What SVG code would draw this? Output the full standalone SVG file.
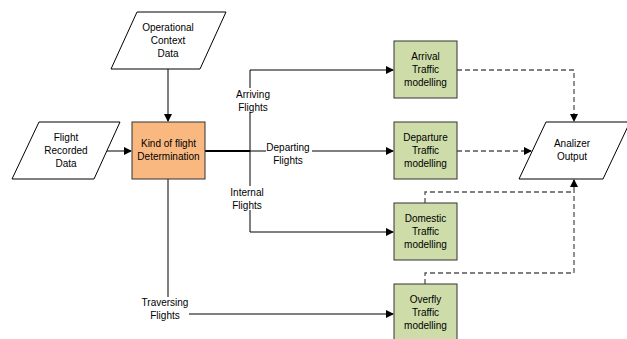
<svg xmlns="http://www.w3.org/2000/svg" width="627" height="339" viewBox="0 0 627 339">
<defs>
<style>
text{font-family:"Liberation Sans",Arial,sans-serif;font-size:10px;fill:#000;text-anchor:middle}
.io{fill:#fff;stroke:#000;stroke-width:1}
.proc{fill:#CDDCA9;stroke:#333;stroke-width:1}
.dec{fill:#F9B880;stroke:#333;stroke-width:1}
.ln{fill:none;stroke:#000;stroke-width:1}
.gl{fill:none;stroke:#555;stroke-width:1.5}
.ds{fill:none;stroke:#555;stroke-width:1.3;stroke-dasharray:5,3}
</style>
<marker id="ah" markerWidth="8" markerHeight="8" refX="7" refY="4" orient="auto" markerUnits="userSpaceOnUse">
<path d="M0,0 L8,4 L0,8 Z" fill="#000"/>
</marker>
</defs>
<rect width="627" height="339" fill="#fff"/>
<g id="connectors">
<path class="ln" d="M168,69 V121" marker-end="url(#ah)"/>
<path class="gl" d="M107,151 H131" marker-end="url(#ah)"/>
<path d="M205,151 H250" fill="none" stroke="#000" stroke-width="2"/>
<path class="gl" d="M250,151 H393" marker-end="url(#ah)"/>
<path class="ln" d="M250,232 V70 H393" marker-end="url(#ah)"/>
<path class="ln" d="M250,232 H393" marker-end="url(#ah)"/>
<path class="ln" d="M168,179 V297"/>
<path class="ln" d="M189,314 H393" marker-end="url(#ah)"/>
<path class="ds" d="M457,70 H574 V121" marker-end="url(#ah)"/>
<path class="ds" d="M457,151 H531" marker-end="url(#ah)"/>
<path class="ds" d="M425,203 V192 H574 V180" marker-end="url(#ah)"/>
<path class="ds" d="M425,284 V273 H574 V192"/>
</g>
<g id="operational">
<polygon class="io" points="137,12 226,12 200,69 111,69"/>
<text x="168" y="31">Operational</text>
<text x="168" y="44">Context</text>
<text x="168" y="57">Data</text>
</g>
<g id="flightrec">
<polygon class="io" points="39,122 120,122 94,179 12,179"/>
<text x="66" y="141">Flight</text>
<text x="66" y="154">Recorded</text>
<text x="66" y="167">Data</text>
</g>
<g id="kind">
<rect class="dec" x="132" y="122" width="73" height="57"/>
<text x="168.5" y="147">Kind of flight</text>
<text x="168.5" y="160">Determination</text>
</g>
<g id="arrival">
<rect class="proc" x="394" y="41" width="63" height="57"/>
<text x="425.5" y="60">Arrival</text>
<text x="425.5" y="73">Traffic</text>
<text x="425.5" y="86">modelling</text>
</g>
<g id="departure">
<rect class="proc" x="394" y="122" width="63" height="57"/>
<text x="425.5" y="141">Departure</text>
<text x="425.5" y="154">Traffic</text>
<text x="425.5" y="167">modelling</text>
</g>
<g id="domestic">
<rect class="proc" x="394" y="203" width="63" height="57"/>
<text x="425.5" y="222">Domestic</text>
<text x="425.5" y="235">Traffic</text>
<text x="425.5" y="248">modelling</text>
</g>
<g id="overfly">
<rect class="proc" x="394" y="284" width="63" height="60"/>
<text x="425.5" y="303">Overfly</text>
<text x="425.5" y="316">Traffic</text>
<text x="425.5" y="329">modelling</text>
</g>
<g id="analizer">
<polygon class="io" points="546,122 630,122 603,179 519,179"/>
<text x="572" y="147">Analizer</text>
<text x="572" y="160">Output</text>
</g>
<g id="labels">
<rect x="232" y="88" width="40" height="24" fill="#fff"/>
<text x="253" y="98">Arriving</text>
<text x="253" y="111">Flights</text>
<rect x="266" y="143" width="46" height="9" fill="#fff"/>
<rect x="266" y="152" width="46" height="12" fill="#fff" opacity="0"/>
<text x="288" y="151">Departing</text>
<text x="288" y="164">Flights</text>
<rect x="228" y="186" width="40" height="24" fill="#fff"/>
<text x="247" y="196">Internal</text>
<text x="247" y="209">Flights</text>
<text x="165" y="306">Traversing</text>
<text x="165" y="319">Flights</text>
</g>
</svg>
